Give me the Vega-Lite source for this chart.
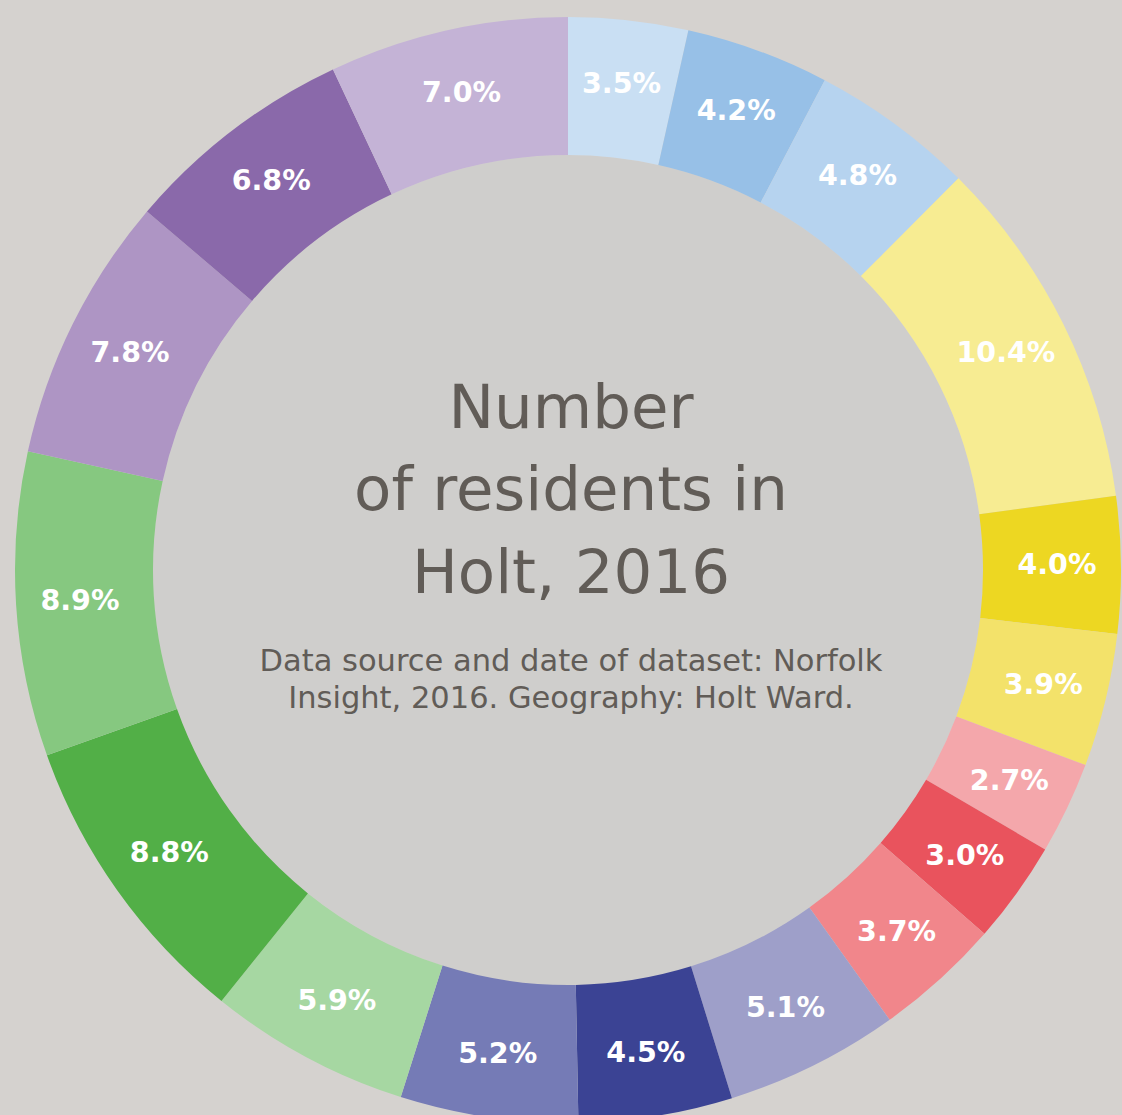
{
  "$schema": "https://vega.github.io/schema/vega-lite/v6.json",
  "width": 1108,
  "height": 1090,
  "padding": {"left": 14, "top": 25, "right": 0, "bottom": 0},
  "autosize": {"type": "none"},
  "background": "#d5d2cf",
  "config": {"view": {"stroke": null}},
  "datasets": {
    "ring": [
      {"seg": 1, "share": 0.035},
      {"seg": 2, "share": 0.042},
      {"seg": 3, "share": 0.048},
      {"seg": 4, "share": 0.104},
      {"seg": 5, "share": 0.040},
      {"seg": 6, "share": 0.039},
      {"seg": 7, "share": 0.027},
      {"seg": 8, "share": 0.030},
      {"seg": 9, "share": 0.037},
      {"seg": 10, "share": 0.051},
      {"seg": 11, "share": 0.045},
      {"seg": 12, "share": 0.052},
      {"seg": 13, "share": 0.059},
      {"seg": 14, "share": 0.088},
      {"seg": 15, "share": 0.089},
      {"seg": 16, "share": 0.078},
      {"seg": 17, "share": 0.068},
      {"seg": 18, "share": 0.070}
    ]
  },
  "layer": [
    {
      "data": {"values": [{"whole": 1}]},
      "mark": {"type": "arc", "outerRadius": 415, "color": "#cfcecc"},
      "encoding": {"theta": {"field": "whole", "type": "quantitative", "stack": true}}
    },
    {
      "data": {"name": "ring"},
      "mark": {"type": "arc", "outerRadius": 553, "innerRadius": 415},
      "encoding": {
        "theta": {"field": "share", "type": "quantitative", "stack": true},
        "order": {"field": "seg", "type": "quantitative"},
        "color": {
          "field": "seg",
          "type": "nominal",
          "legend": null,
          "scale": {
            "domain": [1,2,3,4,5,6,7,8,9,10,11,12,13,14,15,16,17,18],
            "range": ["#c9dff3","#97c0e7","#b6d3ef","#f7ec92","#edd722","#f3e26a","#f4a7ab","#e9535d","#f1868b","#9e9fc9","#3b4394","#757bb6","#a6d7a2","#52af47","#86c880","#ae95c4","#8a69aa","#c4b3d6"]
          }
        }
      }
    },
    {
      "data": {"name": "ring"},
      "mark": {"type": "text", "radius": 489, "font": "DejaVu Sans", "fontWeight": 700, "fontSize": 28.5, "color": "#ffffff", "baseline": "middle", "align": "center"},
      "encoding": {
        "theta": {"field": "share", "type": "quantitative", "stack": true},
        "order": {"field": "seg", "type": "quantitative"},
        "text": {"field": "share", "type": "quantitative", "format": ".1%"}
      }
    },
    {
      "data": {"values": [{"t": "Number"}]},
      "mark": {"type": "text", "font": "DejaVu Sans", "fontWeight": 400, "fontSize": 61, "color": "#615c57", "baseline": "alphabetic", "align": "center", "dx": 3, "dy": -142},
      "encoding": {"text": {"field": "t", "type": "nominal"}}
    },
    {
      "data": {"values": [{"t": "of residents in"}]},
      "mark": {"type": "text", "font": "DejaVu Sans", "fontWeight": 400, "fontSize": 61, "color": "#615c57", "baseline": "alphabetic", "align": "center", "dx": 3, "dy": -60},
      "encoding": {"text": {"field": "t", "type": "nominal"}}
    },
    {
      "data": {"values": [{"t": "Holt, 2016"}]},
      "mark": {"type": "text", "font": "DejaVu Sans", "fontWeight": 400, "fontSize": 61, "color": "#615c57", "baseline": "alphabetic", "align": "center", "dx": 3, "dy": 23},
      "encoding": {"text": {"field": "t", "type": "nominal"}}
    },
    {
      "data": {"values": [{"t": "Data source and date of dataset: Norfolk"}]},
      "mark": {"type": "text", "font": "DejaVu Sans", "fontWeight": 400, "fontSize": 30.5, "color": "#615c57", "baseline": "alphabetic", "align": "center", "dx": 3, "dy": 101},
      "encoding": {"text": {"field": "t", "type": "nominal"}}
    },
    {
      "data": {"values": [{"t": "Insight, 2016. Geography: Holt Ward."}]},
      "mark": {"type": "text", "font": "DejaVu Sans", "fontWeight": 400, "fontSize": 30.5, "color": "#615c57", "baseline": "alphabetic", "align": "center", "dx": 3, "dy": 138},
      "encoding": {"text": {"field": "t", "type": "nominal"}}
    }
  ],
  "resolve": {"scale": {"theta": "independent"}}
}
